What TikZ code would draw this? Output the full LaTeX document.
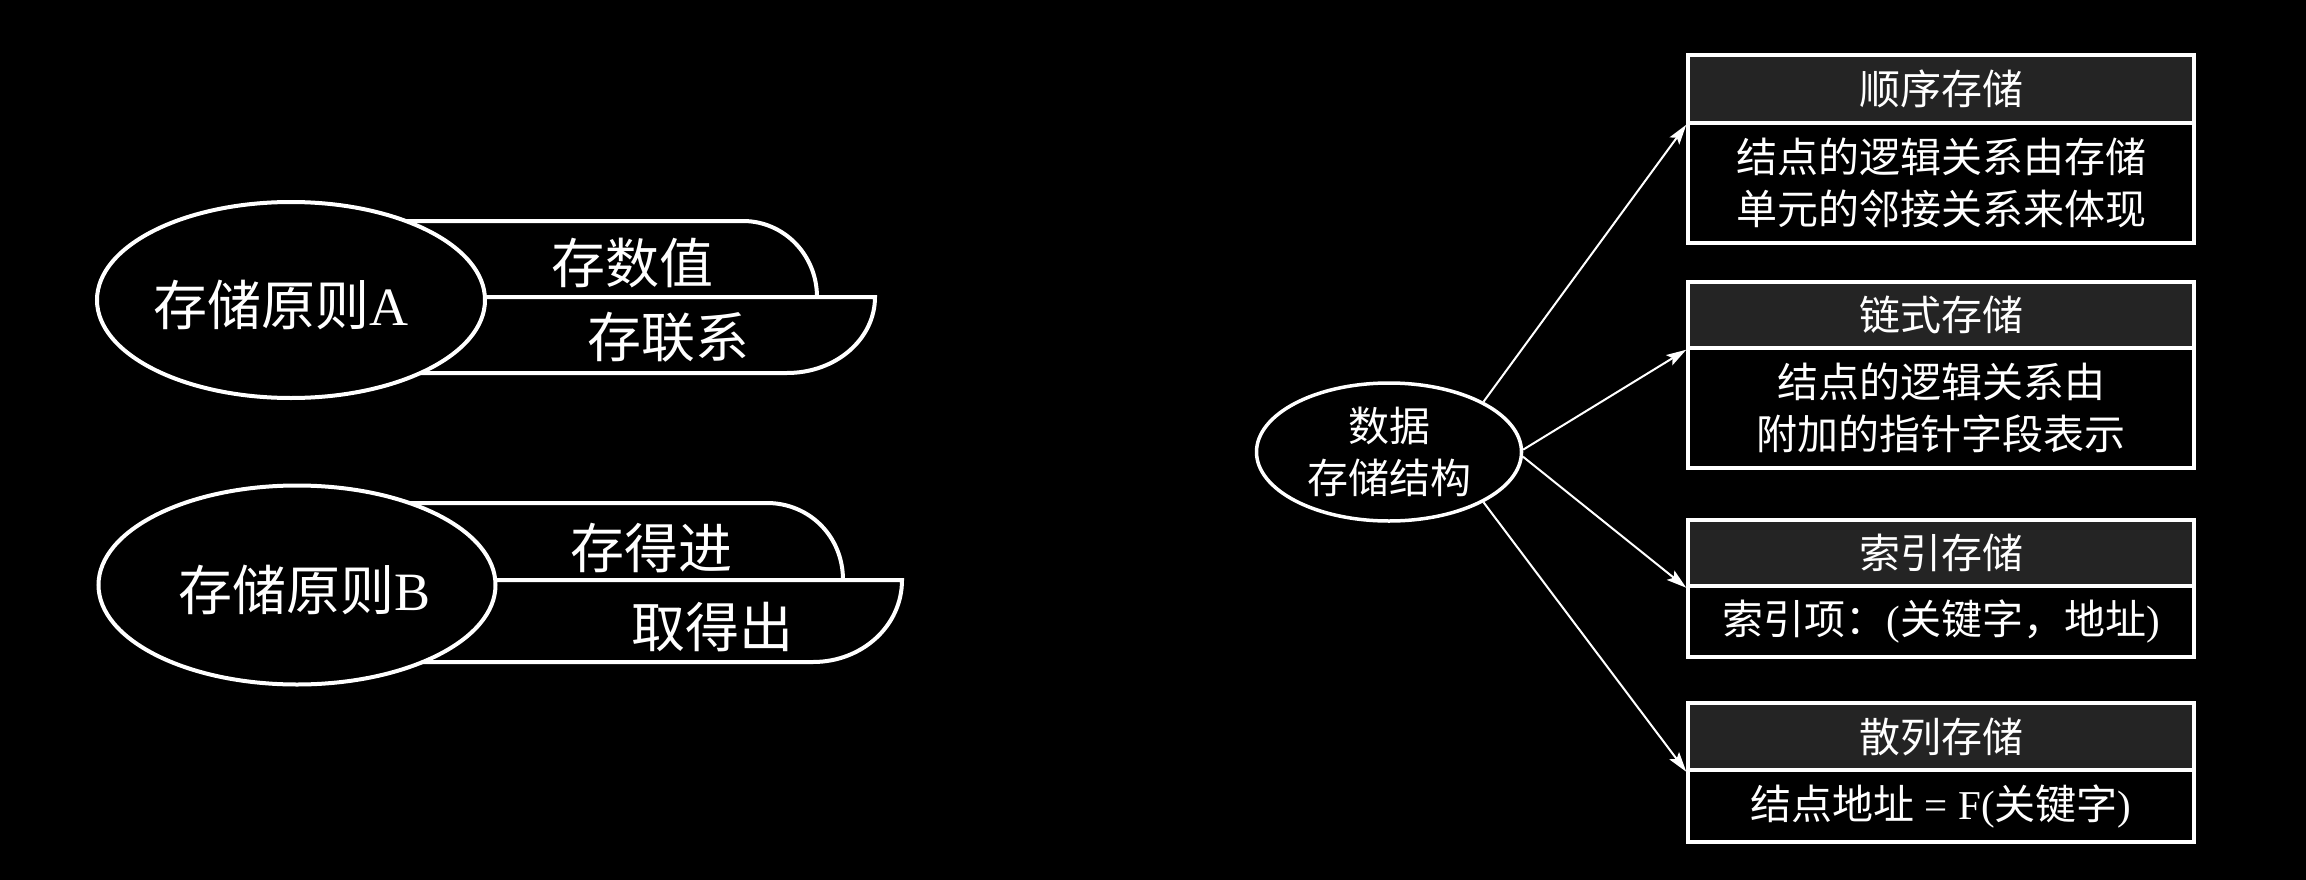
\documentclass[tikz,border=0pt]{standalone}
\usepackage{fontspec}
\setmainfont{Liberation Serif}
\newfontfamily\cjk{Noto Sans CJK SC}
\usetikzlibrary{arrows.meta,shapes.geometric}
\tikzset{
  big/.style={text=white, inner sep=0pt, font=\cjk\fontsize{54}{60}\selectfont},
  mid/.style={text=white, inner sep=0pt, font=\cjk\fontsize{41}{52}\selectfont, align=center},
  oval/.style={ellipse, draw=white, line width=4pt, fill=black, inner sep=0pt},
  tab/.style={draw=white, line width=4pt, fill=black},
  hdr/.style={rectangle, draw=white, line width=3.5pt, fill=black!86!white, minimum width=506pt, inner sep=0pt},
  bdy/.style={rectangle, draw=white, line width=3.5pt, fill=black, minimum width=506pt, inner sep=0pt},
  arr/.style={draw=white, line width=2pt, -{Stealth[length=20pt, width=12pt, inset=4pt]}}
}
\begin{document}
\begin{tikzpicture}[x=1pt, y=-1pt]
\fill[black] (0,0) rectangle (2306,880);
\useasboundingbox (0,0) rectangle (2306,880);

% ---- principle A ----
\draw[tab] (291,221) -- (743,221) .. controls (784,221) and (817,255) .. (817,297) -- (291,297) -- cycle;
\draw[tab] (291,297) -- (875,297) .. controls (875,339) and (836,373) .. (787,373) -- (291,373) -- cycle;
\node[oval, minimum width=388pt, minimum height=196pt] (ea) at (291,300) {};
\node[big] (ta) at (281,305) {存储原则{\rmfamily A}};
\node[big] (a1) at (632,263) {存数值};
\node[big] (a2) at (668,337) {存联系};

% ---- principle B ----
\draw[tab] (297,503) -- (767,503) .. controls (809,503) and (843,536) .. (843,580) -- (297,580) -- cycle;
\draw[tab] (297,580) -- (902,580) .. controls (902,626) and (862,662) .. (813,662) -- (297,662) -- cycle;
\node[oval, minimum width=397pt, minimum height=199pt] (eb) at (297,585) {};
\node[big] (tb) at (305,590) {存储原则{\rmfamily B}};
\node[big] (b1) at (651,548) {存得进};
\node[big] (b2) at (712,627) {取得出};

% ---- storage structures ----
\node[oval, line width=3.5pt, minimum width=265pt, minimum height=138pt, mid] (c) at (1389,452) {数据\\存储结构};

\node[hdr, minimum height=68pt, mid] (h1) at (1941,89) {顺序存储};
\node[bdy, minimum height=120pt, mid] (d1) at (1941,183) {结点的逻辑关系由存储\\单元的邻接关系来体现};

\node[hdr, minimum height=66pt, mid] (h2) at (1941,315) {链式存储};
\node[bdy, minimum height=120pt, mid] (d2) at (1941,408) {结点的逻辑关系由\\附加的指针字段表示};

\node[hdr, minimum height=66pt, mid] (h3) at (1941,553) {索引存储};
\node[bdy, minimum height=71pt, mid] (d3) at (1941,621.5) {索引项：\rmfamily({\cjk 关键字，地址})};

\node[hdr, minimum height=67pt, mid] (h4) at (1941,736.5) {散列存储};
\node[bdy, minimum height=72pt, mid] (d4) at (1941,806) {结点地址\rmfamily\ = F({\cjk 关键字})};

\draw[arr] (c.28) -- (h1.south west);
\draw[arr] (c.1) -- (h2.south west);
\draw[arr] (c.-2) -- (h3.south west);
\draw[arr] (c.-28) -- (h4.south west);
\end{tikzpicture}
\end{document}
